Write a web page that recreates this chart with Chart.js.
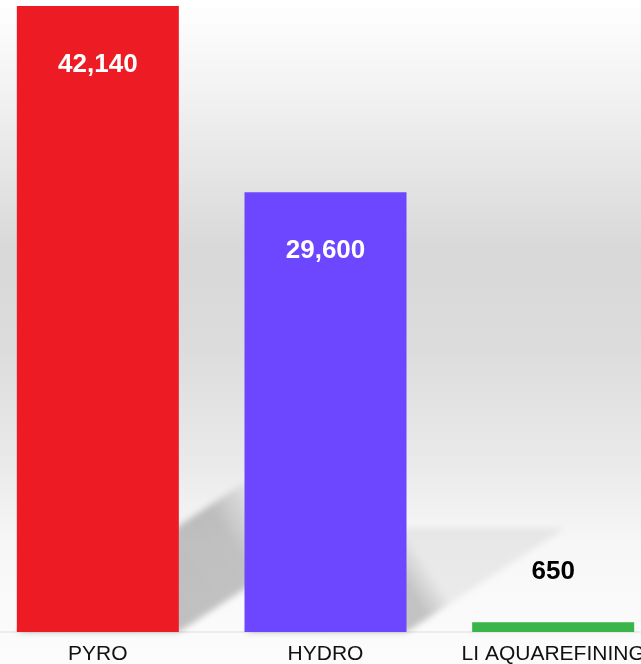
<!DOCTYPE html>
<html><head><meta charset="utf-8">
<script src="https://cdn.jsdelivr.net/npm/chart.js@4"></script>
<style>
html,body{margin:0;padding:0;overflow:hidden;background:#fff;width:641px;height:664px}
#wrap{position:absolute;left:-16px;top:0;width:683px;height:664px}
</style></head>
<body><div id="wrap"><canvas id="c" width="683" height="664"></canvas></div>
<script>
const categories = ['PYRO', 'HYDRO', 'LI AQUAREFINING'];
const values = [42140, 29600, 650];
const valueLabels = ['42,140', '29,600', '650'];
const barColors = ['#ED1C24', '#6C47FF', '#39B54A'];

const FONT = '"Liberation Sans", Arial, Helvetica, sans-serif';

const bgPlugin = {
  id: 'bg',
  beforeDraw(chart) {
    const ctx = chart.ctx, h = chart.height, w = chart.width;
    const g = ctx.createLinearGradient(0, 0, 0, h);
    g.addColorStop(0, '#ffffff');
    g.addColorStop(0.12, '#f4f4f4');
    g.addColorStop(0.38, '#d8d8d8');
    g.addColorStop(0.52, '#dcdcdc');
    g.addColorStop(0.7, '#eaeaea');
    g.addColorStop(0.82, '#f7f7f7');
    g.addColorStop(1, '#fcfcfc');
    ctx.save();
    ctx.fillStyle = g;
    ctx.fillRect(0, 0, w, h);
    ctx.restore();
  }
};

const shadowPlugin = {
  id: 'shadow',
  beforeDatasetsDraw(chart) {
    const ctx = chart.ctx;
    const meta = chart.getDatasetMeta(0);
    ctx.save();
    ctx.filter = 'blur(3px)';
    meta.data.forEach(bar => {
      const h = bar.base - bar.y;
      const dx = 0.36 * h, dy = 0.236 * h;
      const l = bar.x - bar.width / 2, r = bar.x + bar.width / 2, b = bar.base;
      const g = ctx.createLinearGradient(l, b, l + dx, b - dy);
      g.addColorStop(0, 'rgba(0,0,0,0.25)');
      g.addColorStop(0.85, 'rgba(0,0,0,0.22)');
      g.addColorStop(1, 'rgba(0,0,0,0.06)');
      ctx.fillStyle = g;
      ctx.beginPath();
      ctx.moveTo(l, b);
      ctx.lineTo(r, b);
      ctx.lineTo(r + dx, b - dy);
      ctx.lineTo(l + dx, b - dy);
      ctx.closePath();
      ctx.fill();
    });
    ctx.restore();
  }
};

const labelPlugin = {
  id: 'vlabels',
  afterDatasetsDraw(chart) {
    const ctx = chart.ctx;
    const meta = chart.getDatasetMeta(0);
    ctx.save();
    ctx.font = 'bold 26px ' + FONT;
    ctx.textAlign = 'center';
    ctx.textBaseline = 'middle';
    meta.data.forEach((bar, i) => {
      const h = bar.base - bar.y;
      if (h > 100) {
        ctx.fillStyle = '#ffffff';
        ctx.fillText(valueLabels[i], bar.x, bar.y + 59);
      } else {
        ctx.fillStyle = '#000000';
        ctx.fillText(valueLabels[i], bar.x, bar.y - 51);
      }
    });
    ctx.restore();
  }
};

new Chart(document.getElementById('c'), {
  type: 'bar',
  data: {
    labels: categories,
    datasets: [{
      data: values,
      backgroundColor: barColors,
      borderWidth: 0,
      categoryPercentage: 1,
      barPercentage: 0.7116
    }]
  },
  options: {
    responsive: false,
    devicePixelRatio: 1,
    animation: false,
    layout: { padding: { top: 6, left: 0, right: 0, bottom: 0 } },
    plugins: { legend: { display: false }, tooltip: { enabled: false } },
    scales: {
      y: { display: false, min: 0, max: 42140 },
      x: {
        grid: { display: false, drawTicks: false },
        border: { display: true, color: '#ececec', width: 2 },
        afterFit(scale) { scale.height = 32; },
        ticks: {
          color: '#111111',
          padding: 12,
          maxRotation: 0,
          autoSkip: false,
          font: { family: FONT, size: 21, lineHeight: 1 }
        }
      }
    }
  },
  plugins: [bgPlugin, shadowPlugin, labelPlugin]
});
</script>
</body></html>
